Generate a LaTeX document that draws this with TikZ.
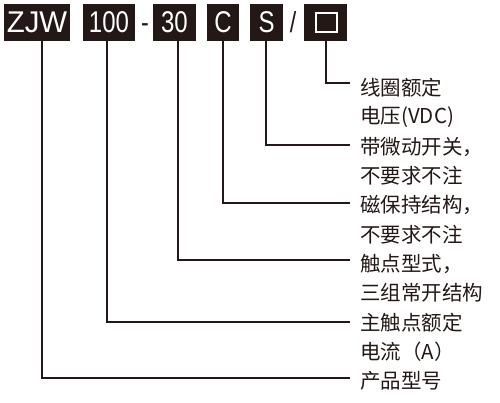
\documentclass[tikz,border=0pt]{standalone}
\usepackage{fontspec}
\setmainfont{Liberation Sans}
\newfontfamily\cjk{Noto Sans CJK SC}
\newfontfamily\cond[FakeStretch=0.8]{Liberation Sans}
\newfontfamily\condw[FakeStretch=0.98]{Liberation Sans}
\definecolor{ink}{HTML}{231815}
\begin{document}
\begin{tikzpicture}[x=1pt,y=-1pt,
  code/.style={fill=ink, text=white, inner sep=0pt, minimum height=37pt, font=\cond\fontsize{30}{30}\selectfont},
  sepmark/.style={text=ink, inner sep=0pt, anchor=base, font=\cond\fontsize{29}{29}\selectfont},
  lab/.style={anchor=west, inner sep=0pt, text=ink, font=\cjk\fontsize{20.5}{20.5}\selectfont},
  conn/.style={draw=ink, line width=1.5pt}]
\useasboundingbox (0,0) rectangle (500,403);
% code boxes
\node[code, minimum width=66pt] (zjw) at (37,22.5) {\condw ZJW};
\node[code, minimum width=52pt] (amp) at (109,22.5) {100};
\node[sepmark] (dash) at (145,33) {-};
\node[code, minimum width=43pt] (cont) at (174.5,22.5) {30};
\node[code, minimum width=32pt] (mag) at (223,22.5) {C};
\node[code, minimum width=33pt] (sw) at (266.5,22.5) {S};
\node[sepmark] (slash) at (293,33) {/};
\node[code, minimum width=43pt] (sq) at (325.5,22.5) {};
\node[draw=white, line width=1.8pt, minimum width=21pt, minimum height=19pt, inner sep=0pt] (sqin) at (326.5,22.5) {};
% labels
\node[lab] (l1) at (360,88) {线圈额定};
\node[lab] (l2) at (360,117.3) {电压(VDC)};
\node[lab] (l3) at (360,146.6) {带微动开关，};
\node[lab] (l4) at (360,175.9) {不要求不注};
\node[lab] (l5) at (360,205.2) {磁保持结构，};
\node[lab] (l6) at (360,234.5) {不要求不注};
\node[lab] (l7) at (360,263.8) {触点型式，};
\node[lab] (l8) at (360,293.1) {三组常开结构};
\node[lab] (l9) at (360,322.4) {主触点额定};
\node[lab] (l10) at (360,351.7) {电流（A）};
\node[lab] (l11) at (360,381) {产品型号};
% connectors
\draw[conn] ([xshift=0.5pt]sq.south) |- ([xshift=-10pt,yshift=5pt]l1.west);
\draw[conn] ([xshift=-0.5pt]sw.south) |- ([xshift=-10pt,yshift=1.6pt]l3.west);
\draw[conn] (mag.south) |- ([xshift=-10pt,yshift=2.2pt]l5.west);
\draw[conn] ([xshift=3.5pt]cont.south) |- ([xshift=-10pt,yshift=3.8pt]l7.west);
\draw[conn] ([xshift=-2pt]amp.south) |- ([xshift=-10pt,yshift=0.4pt]l9.west);
\draw[conn] ([xshift=5pt]zjw.south) |- ([xshift=-10pt,yshift=3pt]l11.west);
\end{tikzpicture}
\end{document}
